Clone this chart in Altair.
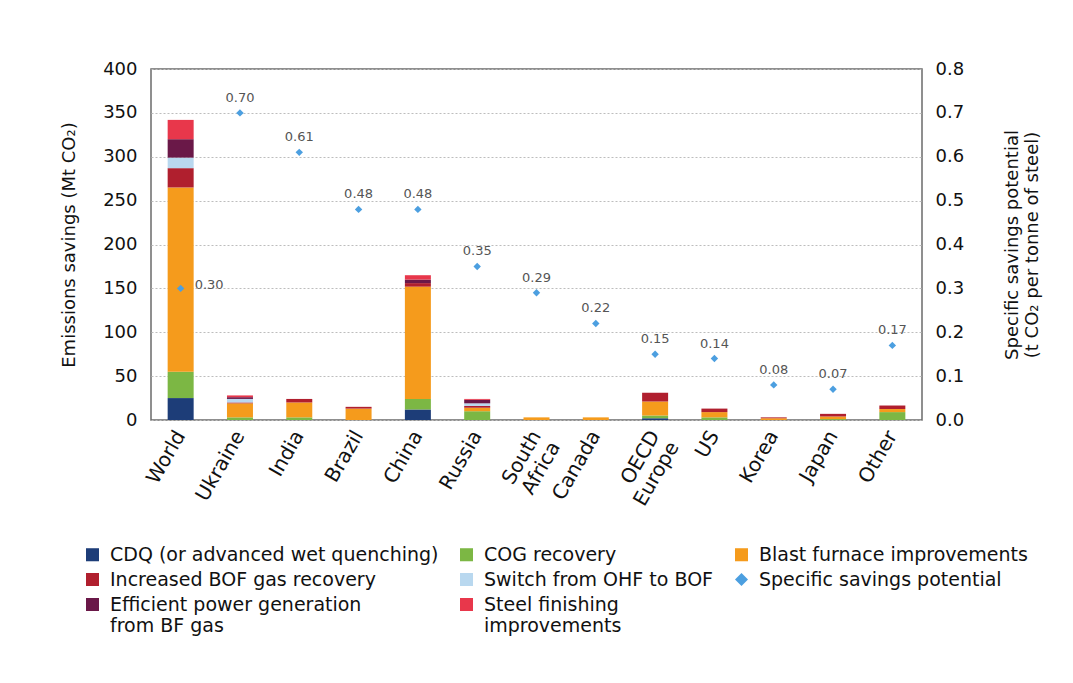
import altair as alt
import pandas as pd

categories = ["World", "Ukraine", "India", "Brazil", "China", "Russia", "South Africa",
              "Canada", "OECD Europe", "US", "Korea", "Japan", "Other"]

# Emissions savings (Mt CO2) by measure
cdq = [25, 0, 0, 0, 12, 0, 0, 0, 2, 0, 0, 0, 0]
cog = [30, 3, 3, 0, 12, 10, 0, 0, 3, 3, 0, 1, 9]
blast_furnace = [210, 16, 17, 13, 128, 4, 3, 3, 16, 6, 2, 3, 3.5]
bof_gas = [22, 1, 4, 2, 4, 2, 0, 0, 10, 4, 1, 3, 4]
switch_ohf = [12, 4, 0, 0, 0, 3, 0, 0, 0, 0, 0, 0, 0]
power_gen = [21, 2, 0, 0, 4, 4, 0, 0, 0, 0, 0, 0, 0]
steel_finishing = [22, 2, 0, 0, 5, 1, 0, 0, 0, 0, 0, 0, 0]

# Specific savings potential (t CO2 per tonne of steel)
specific = [0.30, 0.70, 0.61, 0.48, 0.48, 0.35, 0.29, 0.22, 0.15, 0.14, 0.08, 0.07, 0.17]

m_cdq = "CDQ (or advanced wet quenching)"
m_cog = "COG recovery"
m_bf = "Blast furnace improvements"
m_bof = "Increased BOF gas recovery"
m_sw = "Switch from OHF to BOF"
m_pw = "Efficient power generation|from BF gas"
m_sf = "Steel finishing|improvements"
m_sp = "Specific savings potential"

# stacking order, bottom to top
stack_measures = [m_cdq, m_cog, m_bf, m_bof, m_sw, m_pw, m_sf]
stack_values = [cdq, cog, blast_furnace, bof_gas, switch_ohf, power_gen, steel_finishing]

# legend order (filled column by column)
legend_order = [m_cdq, m_bof, m_pw, m_cog, m_sw, m_sf, m_bf, m_sp]
legend_colors = ["#1d3d78", "#b01f2e", "#6a1848", "#7cb744", "#b9d8ef", "#e8374b", "#f59b1c", "#4c9fe0"]
legend_shapes = ["square", "square", "square", "square", "square", "square", "square", "diamond"]

rows = []
for i, (m, vals) in enumerate(zip(stack_measures, stack_values)):
    for c, v in zip(categories, vals):
        rows.append({"region": c, "measure": m, "value": v, "k": i})
bars_df = pd.DataFrame(rows)

pts_df = pd.DataFrame({"region": categories, "specific": specific, "series": m_sp})

FONT = "DejaVu Sans"

legend = alt.Legend(
    title=None, orient="none", legendX=-68, legendY=476, columns=3,
    labelFontSize=19, labelLimit=500, labelColor="#111", columnPadding=18, rowPadding=5,
    symbolSize=170, symbolStrokeWidth=0, labelOffset=8,
    labelExpr="split(datum.label, '|')",
)

color = alt.Color("measure:N", scale=alt.Scale(domain=legend_order, range=legend_colors), legend=legend)

x_enc = alt.X(
    "region:N", sort=categories, title=None,
    scale=alt.Scale(paddingInner=0.56, paddingOuter=0.28),
    axis=alt.Axis(labelAngle=-60, labelAlign="right", labelBaseline="middle",
                  labelFontSize=20, labelColor="#111", labelPadding=12,
                  domain=False, ticks=False,
                  labelExpr="indexof(datum.label, ' ') > 0 ? split(datum.label, ' ') : datum.label"),
)

bars = alt.Chart(bars_df).mark_bar(size=26).encode(
    x=x_enc,
    y=alt.Y("value:Q", stack="zero", scale=alt.Scale(domain=[0, 400]),
            axis=alt.Axis(title="Emissions savings (Mt CO₂)", values=list(range(0, 401, 50)),
                          grid=True, gridDash=[2, 2], gridColor="#bdbdbd", domain=False, ticks=False,
                          labelPadding=14, labelFontSize=18, titleFontSize=18, titlePadding=24,
                          titleFontWeight="normal", labelColor="#111", titleColor="#111")),
    color=color,
    order=alt.Order("k:Q"),
)

pt_y = alt.Y("specific:Q", scale=alt.Scale(domain=[0, 0.8]),
             axis=alt.Axis(orient="right", title=["Specific savings potential", "(t CO₂ per tonne of steel)"],
                           values=[0, 0.1, 0.2, 0.3, 0.4, 0.5, 0.6, 0.7, 0.8], format=".1f",
                           grid=False, domain=False, ticks=False, labelPadding=13,
                           labelFontSize=18, titleFontSize=18, titleFontWeight="normal",
                           titleAngle=-90, titleBaseline="top", titlePadding=20,
                           labelColor="#111", titleColor="#111"))

points = alt.Chart(pts_df).mark_point(filled=True, opacity=1, size=55).encode(
    x=x_enc,
    y=pt_y,
    color=alt.Color("series:N", scale=alt.Scale(domain=legend_order, range=legend_colors), legend=legend),
    shape=alt.Shape("series:N", scale=alt.Scale(domain=legend_order, range=legend_shapes), legend=legend),
)

labels_main = alt.Chart(pts_df).transform_filter(alt.datum.region != "World").mark_text(
    dy=-15, fontSize=13, color="#555", font=FONT
).encode(x=x_enc, y=pt_y, text=alt.Text("specific:Q", format=".2f"))

labels_world = alt.Chart(pts_df).transform_filter(alt.datum.region == "World").mark_text(
    dx=14, dy=-3, align="left", fontSize=13, color="#555", font=FONT
).encode(x=x_enc, y=pt_y, text=alt.Text("specific:Q", format=".2f"))

right_layer = alt.layer(points, labels_main, labels_world)

chart = alt.layer(bars, right_layer).resolve_scale(y="independent").properties(
    width=771, height=351,
    padding={"left": 60, "top": 60, "right": 5, "bottom": 5},
    background="white",
).configure(font=FONT).configure_view(stroke="#6b6b6b", strokeWidth=1.5)

chart.save("out.html", embed_options={"renderer": "svg", "actions": False})
